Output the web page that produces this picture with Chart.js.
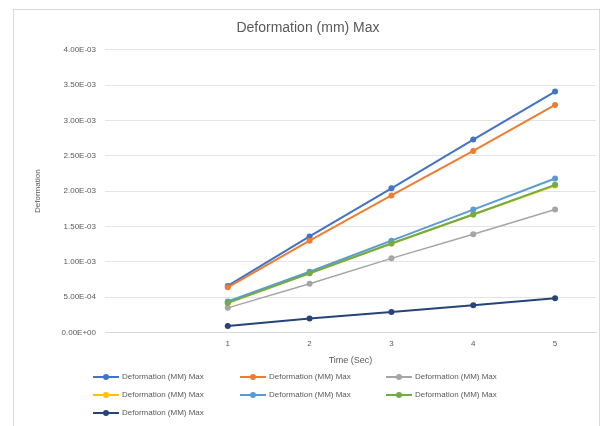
<!DOCTYPE html>
<html>
<head>
<meta charset="utf-8">
<script src="https://cdn.jsdelivr.net/npm/chart.js@4.4.1/dist/chart.umd.min.js"></script>
<style>
  html, body { margin: 0; padding: 0; background: #ffffff; }
  #wrap { position: relative; width: 611px; height: 426px; }
</style>
</head>
<body>
<div id="wrap"><canvas id="c" width="611" height="426"></canvas></div>
<script>
// Time steps (the first slot is an empty category, as in the source workbook)
const timeLabels = ['', '1', '2', '3', '4', '5'];

// Maximum deformation per run (mm)
const run1 = [null, 0.00066, 0.00136, 0.00204, 0.00273, 0.00341];
const run2 = [null, 0.00064, 0.00130, 0.00194, 0.00257, 0.00322];
const run3 = [null, 0.00035, 0.00069, 0.00105, 0.00139, 0.00174];
const run4 = [null, 0.00042, 0.00084, 0.00126, 0.00167, 0.00208];
const run5 = [null, 0.00044, 0.00086, 0.00130, 0.00174, 0.00218];
const run6 = [null, 0.00042, 0.00084, 0.00126, 0.00167, 0.00209];
const run7 = [null, 0.000095, 0.000198, 0.000293, 0.000388, 0.000487];

const seriesName = 'Deformation (MM) Max';
const seriesValues = [run1, run2, run3, run4, run5, run6, run7];
const seriesColors = ['#4472C4', '#ED7D31', '#A5A5A5', '#FFC000', '#5B9BD5', '#70AD47', '#264478'];
const seriesWidths = [2, 2, 1.5, 2, 2, 2, 2];

const datasets = seriesValues.map((vals, i) => ({
  label: seriesName,
  data: vals,
  borderColor: seriesColors[i],
  backgroundColor: seriesColors[i],
  borderWidth: seriesWidths[i],
  pointRadius: 3,
  pointHoverRadius: 3,
  pointBorderWidth: 0,
  fill: false,
  tension: 0,
  order: seriesValues.length - i   // later series sit on top
}));

// Outer frame of the chart object
const framePlugin = {
  id: 'frame',
  beforeDraw(chart) {
    const ctx = chart.ctx;
    ctx.save();
    ctx.fillStyle = '#ffffff';
    ctx.fillRect(0, 0, chart.width, chart.height);
    ctx.strokeStyle = '#d9d9d9';
    ctx.lineWidth = 1;
    ctx.strokeRect(13.5, 9.5, 586, 430);
    ctx.restore();
  }
};

// Legend laid out in three columns, line + marker swatch
const legendPlugin = {
  id: 'gridLegend',
  afterDraw(chart) {
    const ctx = chart.ctx;
    const cols = [93, 240, 386];
    const rows = [377, 395, 413];
    ctx.save();
    ctx.font = '8px "Liberation Sans", Arial, sans-serif';
    ctx.textBaseline = 'middle';
    ctx.textAlign = 'left';
    chart.data.datasets.forEach((ds, i) => {
      const x = cols[i % 3];
      const y = rows[Math.floor(i / 3)];
      ctx.strokeStyle = ds.borderColor;
      ctx.lineWidth = 2;
      ctx.beginPath();
      ctx.moveTo(x, y);
      ctx.lineTo(x + 26, y);
      ctx.stroke();
      ctx.fillStyle = ds.borderColor;
      ctx.beginPath();
      ctx.arc(x + 13, y, 3, 0, Math.PI * 2);
      ctx.fill();
      ctx.fillStyle = '#595959';
      ctx.fillText(ds.label, x + 29, y);
    });
    ctx.restore();
  }
};

function sci(v) {
  const s = Number(v).toExponential(2);
  const m = s.match(/^(-?[\d.]+)e([+-])(\d+)$/);
  if (!m) return s;
  const exp = m[3].length < 2 ? '0' + m[3] : m[3];
  return m[1] + 'E' + m[2] + exp;
}

new Chart(document.getElementById('c'), {
  type: 'line',
  data: { labels: timeLabels, datasets },
  options: {
    responsive: false,
    animation: false,
    events: [],
    layout: { padding: { left: 20, right: 15, top: 16, bottom: 60 } },
    plugins: {
      legend: { display: false },
      tooltip: { enabled: false },
      title: {
        display: true,
        text: 'Deformation (mm) Max',
        color: '#595959',
        font: { family: '"Liberation Sans", Arial, sans-serif', size: 14, weight: 'normal' },
        padding: { top: 4, bottom: 13 }
      }
    },
    scales: {
      x: {
        offset: true,
        grid: { display: false, drawTicks: false },
        border: { display: true, color: '#d9d9d9', width: 1 },
        ticks: {
          color: '#595959',
          font: { family: '"Liberation Sans", Arial, sans-serif', size: 8 },
          padding: 6,
          maxRotation: 0,
          autoSkip: false
        },
        title: {
          display: true,
          text: 'Time (Sec)',
          color: '#595959',
          font: { family: '"Liberation Sans", Arial, sans-serif', size: 9 },
          padding: { top: 1, bottom: 0 }
        }
      },
      y: {
        min: 0,
        max: 0.004,
        afterFit(scale) { scale.width = 85; },
        grid: { color: '#e4e4e4', drawTicks: false },
        border: { display: false },
        ticks: {
          stepSize: 0.0005,
          color: '#595959',
          font: { family: '"Liberation Sans", Arial, sans-serif', size: 8 },
          padding: 9,
          callback: (v) => sci(v)
        },
        title: {
          display: true,
          text: 'Deformation',
          color: '#595959',
          font: { family: '"Liberation Sans", Arial, sans-serif', size: 8 },
          padding: { top: 13, bottom: 4 }
        }
      }
    }
  },
  plugins: [framePlugin, legendPlugin]
});
</script>
</body>
</html>
